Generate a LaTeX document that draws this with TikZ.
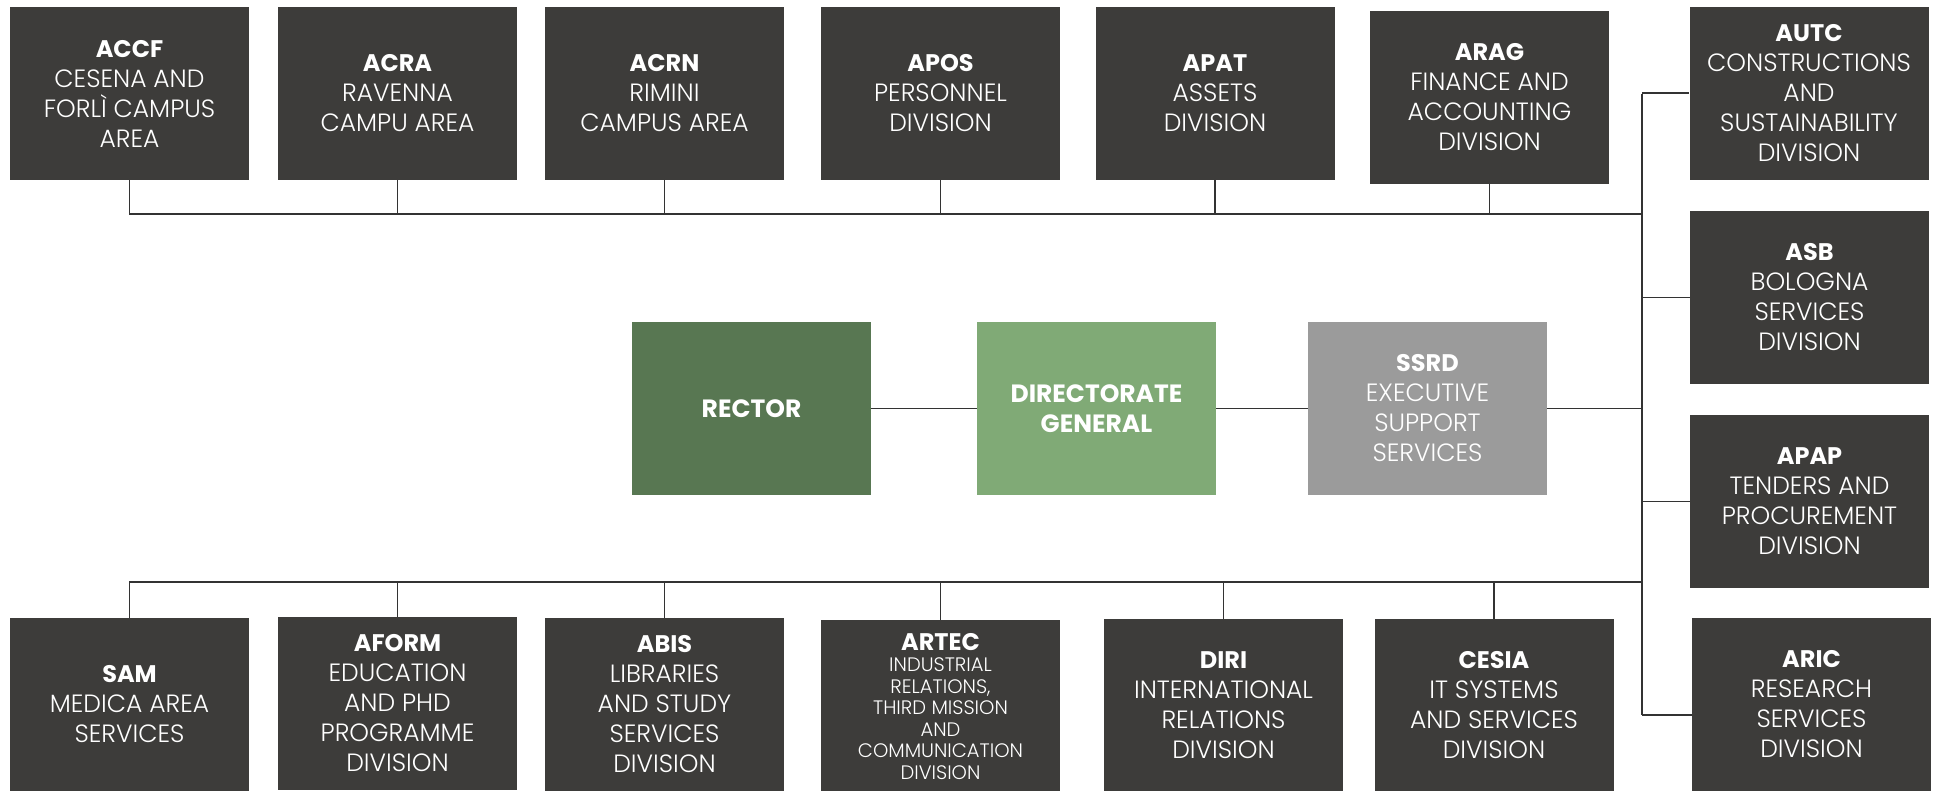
\documentclass[tikz,border=0pt]{standalone}
\usepackage{fontspec}
\setmainfont{Poppins}[UprightFont=* Light, BoldFont=* Bold]

\definecolor{unitgray}{HTML}{3D3C3A}
\definecolor{rectorgreen}{HTML}{587752}
\definecolor{dggreen}{HTML}{80AA76}
\definecolor{staffgray}{HTML}{9B9B9B}
\definecolor{linkgray}{HTML}{333333}

\newcommand{\unittitle}[1]{\textbf{\fontsize{24}{30}\selectfont #1}}

\begin{document}
\begin{tikzpicture}
		[
			x=1pt, y=-1pt,
			unit/.style={rectangle, fill=unitgray, text=white, inner sep=0pt,
				minimum width=239pt, minimum height=173pt, align=center,
				font=\fontsize{25}{30}\selectfont},
			smallunit/.style={unit, font=\fontsize{19.5}{21.5}\selectfont},
			rector/.style={unit, fill=rectorgreen},
			dirgen/.style={unit, fill=dggreen},
			staff/.style={unit, fill=staffgray},
			link/.style={draw=linkgray, line width=1.4pt},
		]

		\useasboundingbox (0,0) rectangle (1942,790);

		% Top row
		\node[unit] (ACCF) at (129.5,93.5) {\unittitle{ACCF}\\CESENA AND\\FORLÌ CAMPUS\\AREA};
		\node[unit] (ACRA) at (397.5,93.5) {\unittitle{ACRA}\\RAVENNA\\CAMPU AREA};
		\node[unit] (ACRN) at (664.5,93.5) {\unittitle{ACRN}\\RIMINI\\CAMPUS AREA};
		\node[unit] (APOS) at (940.5,93.5) {\unittitle{APOS}\\PERSONNEL\\DIVISION};
		\node[unit] (APAT) at (1215,93.5) {\unittitle{APAT}\\ASSETS\\DIVISION};
		\node[unit] (ARAG) at (1489.5,97.5) {\unittitle{ARAG}\\FINANCE AND\\ACCOUNTING\\DIVISION};

		% Right column
		\node[unit] (AUTC) at (1809,93) {\unittitle{AUTC}\\CONSTRUCTIONS\\AND\\SUSTAINABILITY\\DIVISION};
		\node[unit] (ASB) at (1809.5,297.5) {\unittitle{ASB}\\BOLOGNA\\SERVICES\\DIVISION};
		\node[unit] (APAP) at (1809.5,501.5) {\unittitle{APAP}\\TENDERS AND\\PROCUREMENT\\DIVISION};
		\node[unit] (ARIC) at (1811.5,704.5) {\unittitle{ARIC}\\RESEARCH\\SERVICES\\DIVISION};

		% Bottom row
		\node[unit] (SAM) at (129.5,704.5) {\unittitle{SAM}\\MEDICA AREA\\SERVICES};
		\node[unit] (AFORM) at (397.5,703.5) {\unittitle{AFORM}\\EDUCATION\\AND PHD\\PROGRAMME\\DIVISION};
		\node[unit] (ABIS) at (664.5,704.5) {\unittitle{ABIS}\\LIBRARIES\\AND STUDY\\SERVICES\\DIVISION};
		\node[smallunit] (ARTEC) at (940.5,706.5) {\unittitle{ARTEC}\\INDUSTRIAL\\RELATIONS,\\THIRD MISSION\\AND\\COMMUNICATION\\DIVISION};
		\node[unit] (DIRI) at (1223.5,705.5) {\unittitle{DIRI}\\INTERNATIONAL\\RELATIONS\\DIVISION};
		\node[unit] (CESIA) at (1494,705.5) {\unittitle{CESIA}\\IT SYSTEMS\\AND SERVICES\\DIVISION};

		% Centre
		\node[rector] (RECTOR) at (751.5,408.5) {\textbf{RECTOR}};
		\node[dirgen] (DG) at (1096.5,408.5) {\textbf{DIRECTORATE}\\\textbf{GENERAL}};
		\node[staff] (SSRD) at (1427.5,408.5) {\unittitle{SSRD}\\EXECUTIVE\\SUPPORT\\SERVICES};

		% Trunk
		\coordinate (topR) at (1642,214);
		\coordinate (botR) at (1642,582);
		\coordinate (trunkT) at (1642,94);
		\coordinate (trunkB) at (1642,715);
		\draw[link] (trunkT) -- (trunkB);

		% Edges
		\draw[link] (ACCF.south) |- (topR);
		\foreach \u in {ACRA, ACRN, APOS, APAT, ARAG}
			\draw[link] (\u.south) -- (\u.south |- topR);

		\draw[link] (SAM.north) |- (botR);
		\foreach \u in {AFORM, ABIS, ARTEC, DIRI, CESIA}
			\draw[link] (\u.north) -- (\u.north |- botR);

		\foreach \u in {AUTC, ASB, APAP}
			\draw[link] (\u.west -| trunkT) -- (\u.west);
		\draw[link] (trunkB) -- (trunkB -| ARIC.west);

		\draw[link] (RECTOR) -- (DG);
		\draw[link] (DG) -- (SSRD);
		\draw[link] (SSRD.east) -- (SSRD.east -| trunkT);

		\end{tikzpicture}
\end{document}
